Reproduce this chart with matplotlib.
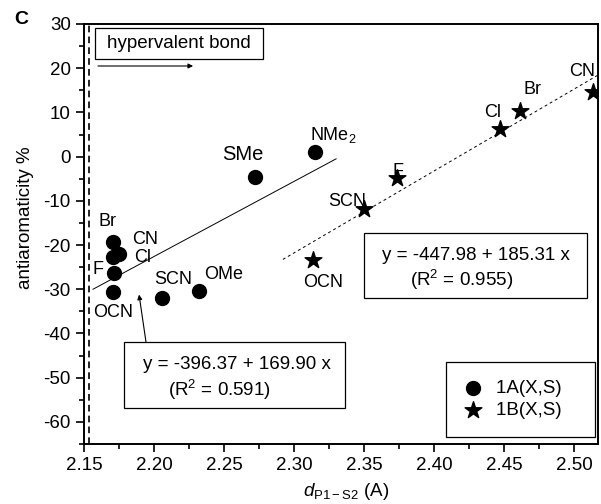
import matplotlib
matplotlib.use("Agg")
import matplotlib.pyplot as plt
from matplotlib.patches import Rectangle

plt.rcParams["font.family"] = ["Liberation Sans", "DejaVu Sans"]
plt.rcParams["mathtext.fontset"] = "custom"
plt.rcParams["mathtext.rm"] = "Liberation Sans"
plt.rcParams["mathtext.it"] = "Liberation Sans:italic"
plt.rcParams["axes.unicode_minus"] = False

# 1A(X,S) : circles
a_labels = ["Br", "CN", "Cl", "F", "OCN", "SCN", "OMe", "SMe", "NMe$_2$"]
a_x = [2.1707, 2.175, 2.1707, 2.1714, 2.1707, 2.2057, 2.232, 2.272, 2.315]
a_y = [-19.4, -22.1, -22.8, -26.4, -30.7, -31.9, -30.5, -4.5, 0.95]
a_lab_x = [2.167, 2.1936, 2.192, 2.160, 2.1707, 2.2136, 2.250, 2.2636, 2.328]
a_lab_y = [-14.7, -18.8, -22.8, -25.5, -35.2, -27.8, -26.7, 0.4, 5.0]

# 1B(X,S) : stars
b_labels = ["CN", "Br", "Cl", "F", "SCN", "OCN"]
b_x = [2.5136, 2.4614, 2.447, 2.3736, 2.350, 2.3136]
b_y = [14.65, 10.4, 6.3, -4.8, -11.8, -23.3]
b_lab_x = [2.5057, 2.470, 2.442, 2.3743, 2.338, 2.3207]
b_lab_y = [19.2, 15.1, 9.9, -3.4, -10.2, -28.5]

# fits
fit_a = (-396.37, 169.90)
fit_a_range = (2.1564, 2.330)
fit_b = (-447.98, 185.31)
fit_b_range = (2.292, 2.517)

fig = plt.figure(figsize=(6.01, 5.04), dpi=100)
ax = fig.add_axes([84 / 601, 1 - 444 / 504, 514 / 601, 420 / 504])

ax.set_xlim(2.15, 2.517)
ax.set_ylim(-65, 30)

ax.axvline(2.1536, color="black", lw=1.2, ls=(0, (4, 2.5)))

xa = list(fit_a_range)
ax.plot(xa, [fit_a[0] + fit_a[1] * v for v in xa], color="black", lw=0.7)
xb = list(fit_b_range)
ax.plot(xb, [fit_b[0] + fit_b[1] * v for v in xb], color="black", lw=0.7,
        ls=(0, (3, 3)))

for lab, x, y in zip(a_labels, a_lab_x, a_lab_y):
    fs = 14.5 if lab == "SMe" else 13
    ax.text(x, y, lab, ha="center", va="center", fontsize=fs, zorder=2)
for lab, x, y in zip(b_labels, b_lab_x, b_lab_y):
    ax.text(x, y, lab, ha="center", va="center", fontsize=13, zorder=2)

ax.scatter(a_x, a_y, s=100, marker="o", color="black", zorder=3,
           label="1A(X,S)   ")
ax.scatter(b_x, b_y, s=160, marker="*", color="black", zorder=3,
           label="1B(X,S)   ")

# hypervalent bond box + arrow
ax.add_patch(Rectangle((2.1579, 22.1), 0.12, 7.0, fill=False, lw=0.9,
                       zorder=4))
ax.text(2.2179, 25.7, "hypervalent bond", ha="center", va="center",
        fontsize=13.5)
ax.annotate("", xy=(2.2279, 20.5), xytext=(2.160, 20.5),
            arrowprops=dict(arrowstyle="-|>", lw=0.8, color="black",
                            mutation_scale=7, shrinkA=0, shrinkB=0))

# equation boxes
ax.add_patch(Rectangle((2.1786, -56.9), 0.1578, 14.9, fill=False, lw=0.9,
                       zorder=4))
ax.text(2.2593, -47.0, "y = -396.37 + 169.90 x", ha="center", va="center",
        fontsize=13.5)
ax.text(2.247, -52.8, "(R$^2$ = 0.591)", ha="center", va="center",
        fontsize=13.5)
ax.annotate("", xy=(2.1893, -31.2), xytext=(2.1943, -42.0),
            arrowprops=dict(arrowstyle="-|>", lw=0.8, color="black",
                            mutation_scale=7, shrinkA=0, shrinkB=0))

ax.add_patch(Rectangle((2.350, -31.9), 0.1593, 14.7, fill=False, lw=0.9,
                       zorder=4))
ax.text(2.430, -22.4, "y = -447.98 + 185.31 x", ha="center", va="center",
        fontsize=13.5)
ax.text(2.4193, -27.8, "(R$^2$ = 0.955)", ha="center", va="center",
        fontsize=13.5)

leg = ax.legend(loc="lower right", bbox_to_anchor=(0.994, 0.0167),
                borderaxespad=0, fontsize=13.5, frameon=True, fancybox=False,
                edgecolor="black", framealpha=1, borderpad=0.95,
                handletextpad=0.7, labelspacing=0.25, handlelength=1.0,
                scatterpoints=1)
leg.get_frame().set_linewidth(0.9)

ax.set_xticks([2.15, 2.20, 2.25, 2.30, 2.35, 2.40, 2.45, 2.50])
ax.set_xticklabels(["2.15", "2.20", "2.25", "2.30", "2.35", "2.40", "2.45",
                    "2.50"])
ax.set_xticks([2.175, 2.225, 2.275, 2.325, 2.375, 2.425, 2.475], minor=True)
ax.set_yticks(range(-60, 31, 10))
ax.set_yticks(range(-65, 30, 10), minor=True)
ax.tick_params(which="major", direction="out", length=6, width=1.2,
               labelsize=13.5)
ax.tick_params(which="minor", direction="out", length=3.5, width=1.2)
for sp in ax.spines.values():
    sp.set_linewidth(1.4)

ax.set_xlabel("$d_{\\mathrm{P1-S2}}$ (A)", fontsize=13.5)
ax.xaxis.set_label_coords(0.51, -0.088)
ax.set_ylabel("antiaromaticity %", fontsize=13.5)
ax.yaxis.set_label_coords(-0.097, 0.54)

fig.text(21 / 601, 1 - 20 / 504, "C", fontsize=14, fontweight="bold",
         ha="center", va="center")

fig.savefig("out.png", dpi=100)
